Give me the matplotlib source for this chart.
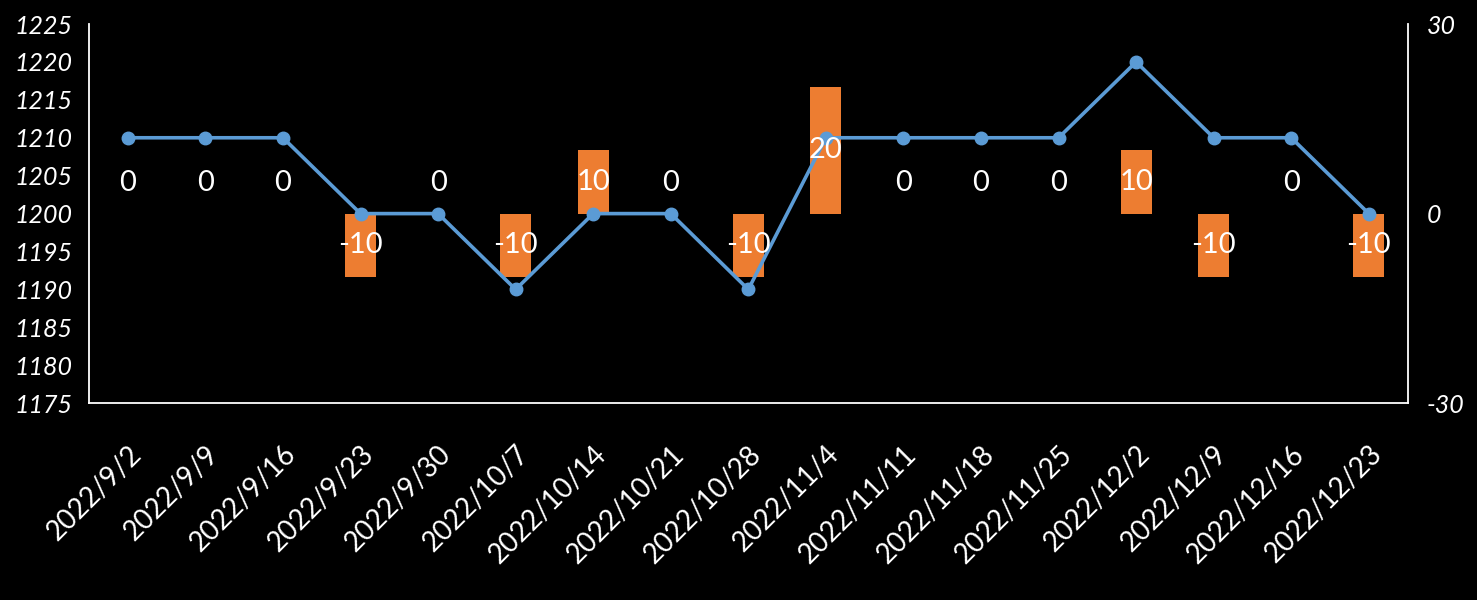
import numpy as np
import matplotlib.pyplot as plt

# data
dates = ["2022/9/2", "2022/9/9", "2022/9/16", "2022/9/23", "2022/9/30",
         "2022/10/7", "2022/10/14", "2022/10/21", "2022/10/28", "2022/11/4",
         "2022/11/11", "2022/11/18", "2022/11/25", "2022/12/2", "2022/12/9",
         "2022/12/16", "2022/12/23"]
price = [1210, 1210, 1210, 1200, 1200, 1190, 1200, 1200, 1190, 1210,
         1210, 1210, 1210, 1220, 1210, 1210, 1200]
change = [0, 0, 0, -10, 0, -10, 10, 0, -10, 20, 0, 0, 0, 10, -10, 0, -10]

plt.rcParams['font.family'] = ['Lato', 'DejaVu Sans']
plt.rcParams['axes.unicode_minus'] = False

blue = "#5B9BD5"
orange = "#ED7D31"

fig = plt.figure(figsize=(14.77, 6), dpi=100, facecolor="black")
ax = fig.add_axes([0.0603, 0.328, 0.8927, 0.632])
ax2 = ax.twinx()
x = np.arange(len(dates))

# bars on the secondary axis, drawn below the line
ax2.bar(x, change, width=0.4, color=orange, zorder=1)
ax2.set_ylim(-30, 30)
ax2.set_yticks([-30, 0, 30])

# line on the primary axis, kept on top
ax.set_zorder(ax2.get_zorder() + 1)
ax.patch.set_visible(False)
ax2.patch.set_facecolor("black")
ax.plot(x, price, color=blue, lw=2.6, marker="o", ms=9, zorder=3)
ax.set_ylim(1175, 1225)
ax.set_yticks(np.arange(1175, 1226, 5))
ax.set_xlim(-0.5, len(dates) - 0.5)
ax.set_xticks(x)
ax.set_xticklabels(dates, rotation=45, ha="right", rotation_mode="anchor",
                   fontsize=20, color="white")

# data labels for the bars
for xi, v in zip(x, change):
    yl = v / 2 if v != 0 else 4.8
    ax.annotate(str(v), xy=(xi, yl), xycoords=ax2.transData, ha="center",
                va="center", color="white", fontsize=21, zorder=5)

for a in (ax, ax2):
    a.tick_params(length=0, colors="white", labelsize=18)
    for s in a.spines.values():
        s.set_visible(False)
for lab in ax.get_yticklabels() + ax2.get_yticklabels():
    lab.set_fontstyle("italic")
ax.tick_params(axis="x", pad=27, labelsize=20)
ax.tick_params(axis="y", pad=12)
ax2.tick_params(axis="y", pad=14)

ax.spines["left"].set_visible(True)
ax.spines["bottom"].set_visible(True)
ax2.spines["right"].set_visible(True)
for s in (ax.spines["left"], ax.spines["bottom"], ax2.spines["right"]):
    s.set_color("white")
    s.set_linewidth(1.3)

fig.savefig("out.png", facecolor="black")
